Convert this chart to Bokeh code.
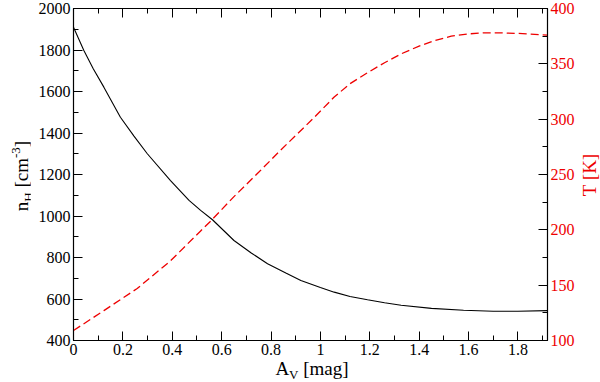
from bokeh.plotting import figure
from bokeh.models import Range1d, LinearAxis, FixedTicker, CustomJSTickFormatter, Div
from bokeh.layouts import row, column
from bokeh.embed import file_html
from bokeh.resources import INLINE

# ---- data ----
av_n = [0.0, 0.042, 0.08, 0.123, 0.19, 0.245, 0.299, 0.393, 0.468, 0.515, 0.563,
        0.65, 0.72, 0.786, 0.86, 0.921, 1.0, 1.056, 1.12, 1.191, 1.26, 1.327, 1.45,
        1.58, 1.7, 1.8, 1.92]
n_h = [1910, 1798, 1710, 1621, 1476, 1385, 1300, 1171, 1075, 1027, 982,
       882, 822, 770, 725, 689, 655, 633, 612, 596, 582, 570, 555,
       546, 541, 541, 544]

av_t = [0.0, 0.123, 0.258, 0.393, 0.515, 0.556, 0.65, 0.75, 0.839, 0.968, 1.056,
        1.12, 1.191, 1.26, 1.327, 1.4, 1.462, 1.53, 1.597, 1.66, 1.732, 1.8, 1.92]
temp = [109, 127, 147, 172, 199, 208, 230, 252, 272, 300, 320,
        332, 342, 351, 359, 366, 371, 375, 377, 378, 378, 377.5, 376]

x_ticks = [0, 0.2, 0.4, 0.6, 0.8, 1.0, 1.2, 1.4, 1.6, 1.8]
x_minor = [0.1, 0.3, 0.5, 0.7, 0.9, 1.1, 1.3, 1.5, 1.7, 1.9]
nh_ticks = [400, 600, 800, 1000, 1200, 1400, 1600, 1800, 2000]
nh_minor = [500, 700, 900, 1100, 1300, 1500, 1700, 1900]
t_ticks = [100, 150, 200, 250, 300, 350, 400]
t_minor = [125, 175, 225, 275, 325, 375]

x_label = 'A<sub style="font-size:13px">V</sub> [mag]'
y_label = 'n<sub style="font-size:13px">H</sub> [cm<sup style="font-size:13px">-3</sup>]'
t_label = 'T [K]'

RED = "#ee0000"
FONT = "Liberation Serif"
CSSFONT = "'Liberation Serif', 'Times New Roman', Times, serif"

p = figure(width=555, height=362, output_backend="svg", toolbar_location=None,
           x_range=Range1d(0, 1.92), y_range=Range1d(400, 2000),
           min_border_left=43, min_border_right=38, min_border_top=8,
           min_border_bottom=22)
p.extra_y_ranges = {"T": Range1d(100, 400)}
p.grid.visible = False
p.outline_line_color = "black"
p.outline_line_width = 1.2

def style(ax, color="black"):
    ax.major_tick_in = 9
    ax.major_tick_out = 0
    ax.minor_tick_in = 5
    ax.minor_tick_out = 0
    ax.axis_line_color = "black"
    ax.major_label_text_font = FONT
    ax.major_label_text_font_style = "normal"
    ax.major_label_text_font_size = "16px"
    ax.major_label_text_color = color
    ax.major_label_standoff = 3

fmt = CustomJSTickFormatter(code="return (Math.round(tick*10)/10).toString();")

xa = p.xaxis[0]
xa.ticker = FixedTicker(ticks=x_ticks, minor_ticks=x_minor)
xa.formatter = fmt
style(xa)

ya = p.yaxis[0]
ya.ticker = FixedTicker(ticks=nh_ticks, minor_ticks=nh_minor)
style(ya)

top = LinearAxis(ticker=FixedTicker(ticks=x_ticks, minor_ticks=x_minor),
                 formatter=CustomJSTickFormatter(code="return '';"))
style(top)
p.add_layout(top, "above")

ra = LinearAxis(y_range_name="T",
                ticker=FixedTicker(ticks=t_ticks, minor_ticks=t_minor))
style(ra, color=RED)
p.add_layout(ra, "right")

p.line(av_n, n_h, line_color="black", line_width=1.1)
p.line(av_t, temp, line_color=RED, line_width=1.3, line_dash="8 4", y_range_name="T")

def side_div(w, h, cx, cy, html, color, rotate):
    rot = " rotate(-90deg)" if rotate else ""
    return Div(width=w, height=h, margin=0, text=(
        f'<div style="position:relative;width:{w}px;height:{h}px;">'
        f'<div style="position:absolute;left:{cx}px;top:{cy}px;'
        f'transform:translate(-50%,-50%){rot};white-space:nowrap;'
        f'font-family:{CSSFONT};font-size:19px;line-height:1;color:{color};">'
        f'{html}</div></div>'))

left_div = side_div(30, 382, 22, 176, y_label, "black", True)
bottom_div = side_div(555, 20, 282, 8, x_label, "black", False)
right_div = side_div(15, 382, 4, 175, t_label, RED, True)

layout = row(left_div, column(p, bottom_div, spacing=0), right_div, spacing=0)
open("out.html", "w").write(file_html(layout, INLINE))
